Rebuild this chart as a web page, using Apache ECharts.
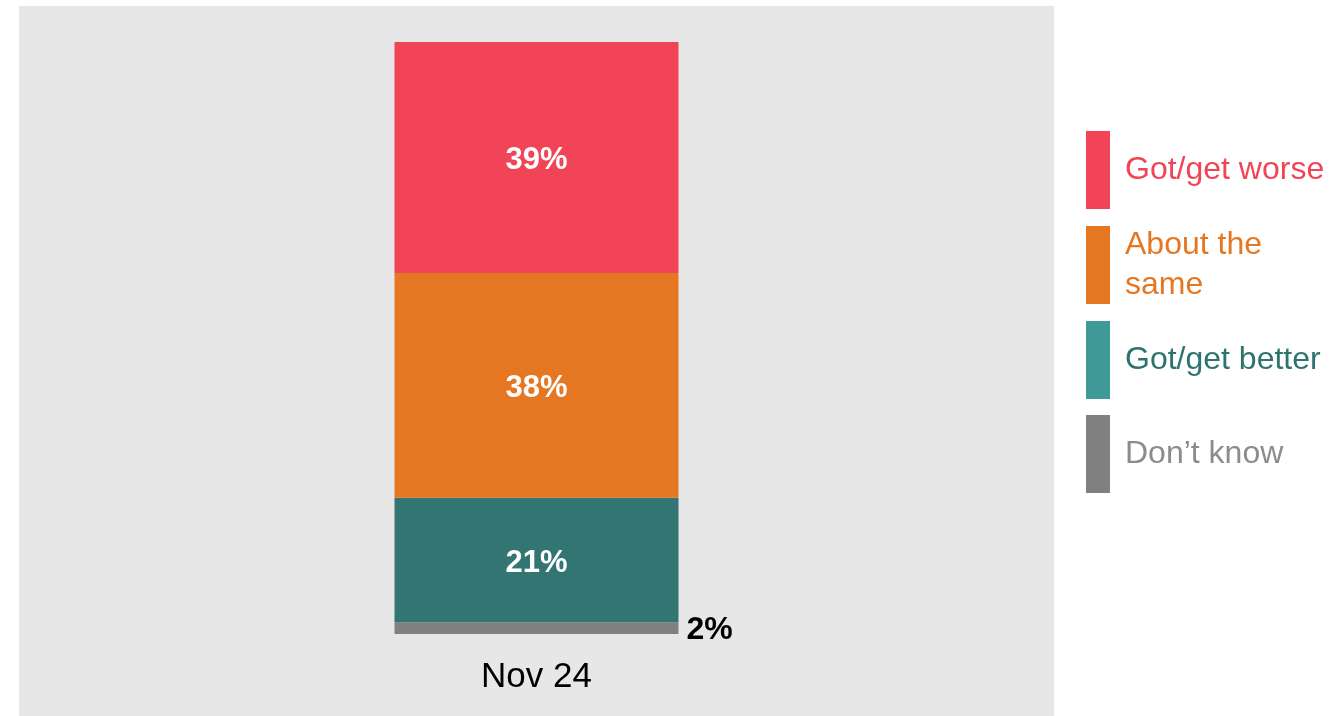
<!DOCTYPE html>
<html>
<head>
<meta charset="utf-8">
<script src="https://cdn.jsdelivr.net/npm/echarts@6/dist/echarts.min.js"></script>
<style>
  html, body { margin: 0; padding: 0; background: #fff; }
  #main { width: 1332px; height: 716px; }
</style>
</head>
<body>
<div id="main"></div>
<script>
// data
const categories = ['Nov 24'];
const seriesNames = ['Got/get worse', 'About the same', 'Got/get better', 'Don\u2019t know'];
const worse = [39];
const same = [38];
const better = [21];
const dontKnow = [2];

const barColors = ['#F24457', '#E67722', '#327573', '#808080'];
const legendIconColors = ['#F24457', '#E67722', '#3F9996', '#808080'];
const legendTextColors = ['#F24457', '#E67722', '#2E7370', '#8C8C8C'];

let myChart = echarts.init(document.getElementById('main'));

function insideLabel() {
    return {
        show: true,
        position: 'inside',
        offset: [0, 3],
        color: '#fff',
        fontWeight: 'bold',
        fontSize: 31,
        formatter: '{c}%'
    };
}

myChart.setOption({
    animation: false,
    textStyle: { fontFamily: 'Liberation Sans, Arial, sans-serif' },
    graphic: [
        {
            type: 'rect',
            z: -10,
            silent: true,
            shape: { x: 19, y: 6, width: 1035, height: 710 },
            style: { fill: '#E7E7E7' }
        }
    ],
    grid: {
        left: 19,
        right: 278,
        top: 42,
        bottom: 82
    },
    legend: {
        orient: 'vertical',
        left: 1086,
        top: 131,
        padding: 0,
        itemWidth: 24,
        itemHeight: 78,
        itemGap: 16,
        icon: 'rect',
        selectedMode: false,
        textStyle: { fontSize: 32, lineHeight: 40, padding: [0, 0, 0, 10] },
        data: seriesNames.map(function (name, i) {
            return {
                name: name,
                itemStyle: { color: legendIconColors[i] },
                textStyle: { color: legendTextColors[i] }
            };
        }),
        formatter: function (name) {
            return name === 'About the same' ? 'About the\nsame' : name;
        }
    },
    xAxis: {
        type: 'category',
        data: categories,
        axisLine: { show: false },
        axisTick: { show: false },
        axisLabel: { color: '#000', fontSize: 35, margin: 26 }
    },
    yAxis: {
        type: 'value',
        min: 0,
        max: 100,
        show: false,
        splitLine: { show: false }
    },
    series: [
        {
            name: seriesNames[3],
            type: 'bar',
            stack: 'total',
            barWidth: 284,
            data: dontKnow,
            itemStyle: { color: barColors[3] },
            label: {
                show: true,
                position: 'right',
                distance: 8,
                offset: [0, 2],
                color: '#000',
                fontWeight: 'bold',
                fontSize: 32,
                formatter: '{c}%'
            }
        },
        {
            name: seriesNames[2],
            type: 'bar',
            stack: 'total',
            barWidth: 284,
            data: better,
            itemStyle: { color: barColors[2] },
            label: insideLabel()
        },
        {
            name: seriesNames[1],
            type: 'bar',
            stack: 'total',
            barWidth: 284,
            data: same,
            itemStyle: { color: barColors[1] },
            label: insideLabel()
        },
        {
            name: seriesNames[0],
            type: 'bar',
            stack: 'total',
            barWidth: 284,
            data: worse,
            itemStyle: { color: barColors[0] },
            label: insideLabel()
        }
    ]
});
</script>
</body>
</html>
